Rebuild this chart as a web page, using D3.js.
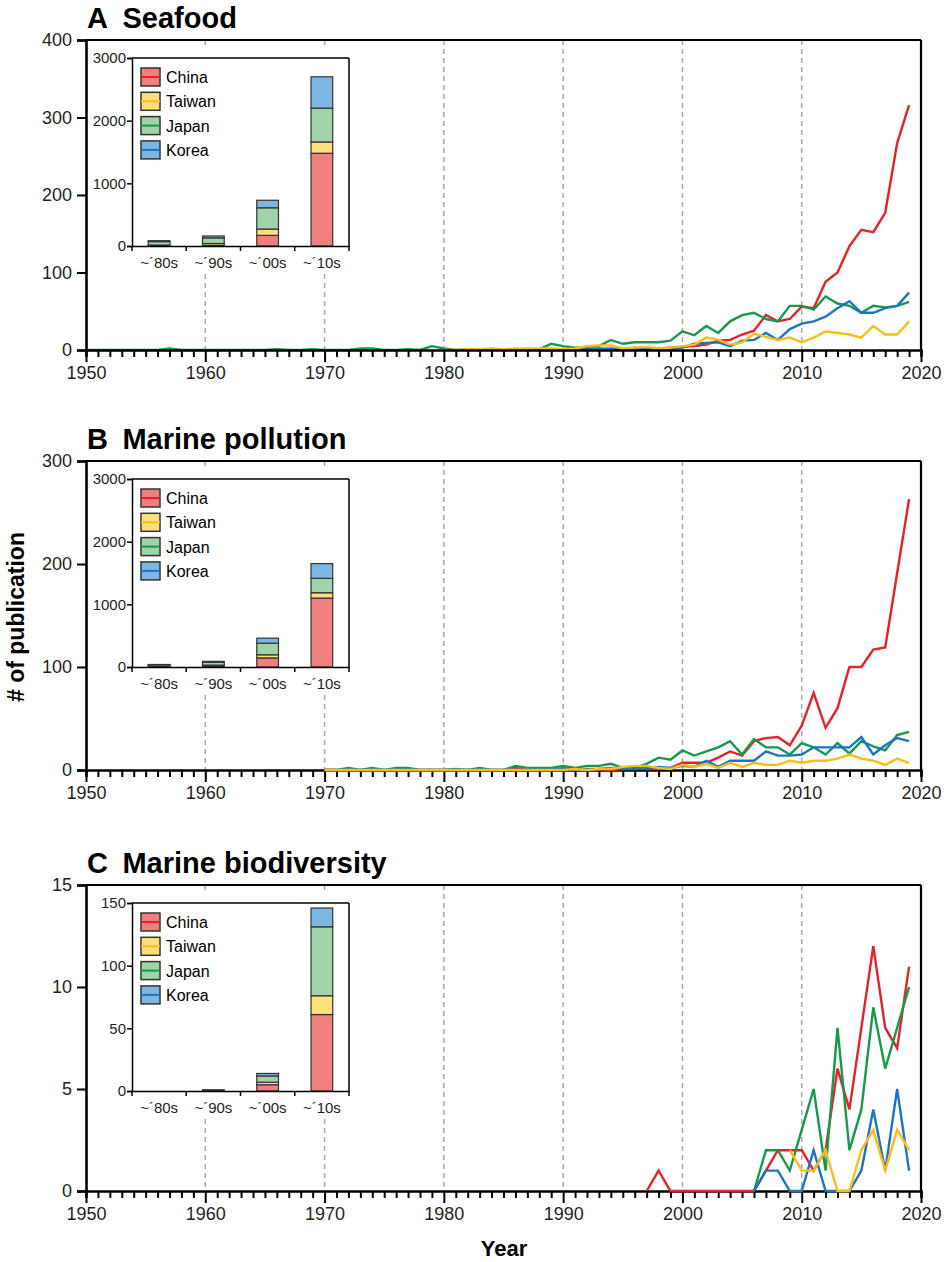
<!DOCTYPE html>
<html><head><meta charset="utf-8">
<script src="https://cdn.jsdelivr.net/npm/d3@7"></script>
<style>
body{margin:0;background:#fff}
svg{display:block}
text{font-family:"Liberation Sans",Arial,Helvetica,sans-serif;fill:#231f20}
</style></head>
<body><svg id="chart" width="948" height="1262"></svg>
<script>
// ---------- data ----------
const countries = ["China", "Taiwan", "Japan", "Korea"];
const lineColors = ["#e8202a", "#fbbd16", "#17994a", "#1c75c4"];
const barColors = ["#f07f80", "#fde07c", "#a1d3a8", "#7db6e3"];
const drawOrder = ["China", "Japan", "Korea", "Taiwan"];
const decadeLabels = ["~\u00b480s", "~\u00b490s", "~\u00b400s", "~\u00b410s"];
const yearTicks = d3.range(1950, 2021);
const gridYears = [1960, 1970, 1980, 1990, 2000, 2010];

// A Seafood
const seafoodStart = {China: 1988, Taiwan: 1980, Japan: 1950, Korea: 1988};
const seafoodChina = [0,0, 0,1,1,2,1,1,2,2,2,3, 4,5,7,12,13,20,25,45,37,40, 56,54,88,100,134,155,152,177,267,316];
const seafoodTaiwan = [0,0,1,1,2,1,2,2,2,2, 1,2,5,6,6,2,3,4,2,3, 5,7,16,13,7,10,21,17,13,16, 10,16,24,22,20,16,31,20,20,37];
const seafoodJapan = [0,0,0,0,0,0,0,2,0,0, 0,0,0,0,0,0,1,0,0,1, 0,0,0,2,2,0,0,1,0,5, 2,0,1,1,1,1,1,1,1,8,
  5,3,4,5,13,8,10,10,10,12, 24,19,31,22,37,45,48,40,37,57, 57,52,69,60,57,48,57,55,57,62];
const seafoodKorea = [0,0, 0,0,1,1,2,1,3,1,2,2, 3,8,9,10,5,12,13,22,13,27, 34,37,43,54,63,48,48,54,57,74];
const seafoodTicks = [0, 100, 200, 300, 400];
const seafoodDecadeChina = [5, 10, 170, 1480];
const seafoodDecadeTaiwan = [10, 30, 100, 180];
const seafoodDecadeJapan = [55, 90, 340, 540];
const seafoodDecadeKorea = [15, 30, 120, 500];

// B Marine pollution
const pollutionStart = {China: 1970, Taiwan: 1970, Japan: 1970, Korea: 1970};
const pollutionChina = [0,0,0,0,0,0,0,0,0,0, 0,0,0,0,0,0,2,0,0,0, 1,0,0,1,0,1,2,1,1,2,
  7,7,7,12,18,14,28,31,32,24, 43,75,41,60,100,100,117,119,191,263];
const pollutionTaiwan = [0,0,0,0,0,0,0,0,0,0, 0,0,0,0,0,0,0,0,0,0, 0,1,0,1,1,3,4,4,2,1,
  5,3,6,2,7,3,7,5,5,9, 7,9,9,11,15,11,9,5,11,7];
const pollutionJapan = [0,0,2,0,2,0,2,2,0,0, 0,1,0,2,0,0,4,2,2,2, 4,2,4,4,6,2,2,6,12,10,
  19,14,18,22,28,15,30,22,22,15, 26,22,15,26,16,28,23,19,34,37];
const pollutionKorea = [0,0,0,0,0,0,0,0,0,0, 0,0,0,0,0,0,0,0,0,0, 2,0,1,1,2,1,1,2,3,2,
  4,3,9,3,9,9,9,18,14,14, 15,22,22,22,22,32,15,24,31,28];
const pollutionTicks = [0, 100, 200, 300];
const pollutionDecadeChina = [5, 15, 145, 1100];
const pollutionDecadeTaiwan = [5, 15, 50, 85];
const pollutionDecadeJapan = [25, 45, 185, 230];
const pollutionDecadeKorea = [5, 15, 80, 235];

// C Marine biodiversity
const biodivStart = {China: 1997, Taiwan: 2009, Japan: 2006, Korea: 2006};
const biodivChina = [0,1,0,0,0,0,0,0,0,0, 1,2,2,2,1,2,6,4,8,12,8,7,11];
const biodivTaiwan = [2,1,1,2,0,0,2,3,1,3,2];
const biodivJapan = [0,2,2,1,3,5,1,8,2,4,9,6,8,10];
const biodivKorea = [0,1,1,0,0,2,0,0,0,1,4,1,5,1];
const biodivTicks = [0, 5, 10, 15];
const biodivDecadeChina = [0, 1, 5, 61];
const biodivDecadeTaiwan = [0, 0, 2, 15];
const biodivDecadeJapan = [0, 0, 5, 55];
const biodivDecadeKorea = [0, 0, 2, 15];

const insetBigTicks = [0, 1000, 2000, 3000];
const insetSmallTicks = [0, 50, 100, 150];

const panels = [
  {letter: "A", title: "Seafood", top: 40, bottom: 350, yTicks: seafoodTicks, start: seafoodStart,
   lines: {China: seafoodChina, Taiwan: seafoodTaiwan, Japan: seafoodJapan, Korea: seafoodKorea},
   bars: {China: seafoodDecadeChina, Taiwan: seafoodDecadeTaiwan, Japan: seafoodDecadeJapan, Korea: seafoodDecadeKorea},
   insetTicks: insetBigTicks, linesOnTop: false},
  {letter: "B", title: "Marine pollution", top: 461, bottom: 770, yTicks: pollutionTicks, start: pollutionStart,
   lines: {China: pollutionChina, Taiwan: pollutionTaiwan, Japan: pollutionJapan, Korea: pollutionKorea},
   bars: {China: pollutionDecadeChina, Taiwan: pollutionDecadeTaiwan, Japan: pollutionDecadeJapan, Korea: pollutionDecadeKorea},
   insetTicks: insetBigTicks, linesOnTop: true},
  {letter: "C", title: "Marine biodiversity", top: 885, bottom: 1191, yTicks: biodivTicks, start: biodivStart,
   lines: {China: biodivChina, Taiwan: biodivTaiwan, Japan: biodivJapan, Korea: biodivKorea},
   bars: {China: biodivDecadeChina, Taiwan: biodivDecadeTaiwan, Japan: biodivDecadeJapan, Korea: biodivDecadeKorea},
   insetTicks: insetSmallTicks, linesOnTop: true}
];

// ---------- drawing ----------
const svg = d3.select("#chart");
const left = 86, right = 921;
const x = d3.scaleLinear().domain([1950, 2020]).range([left, right]);
const colorOf = c => lineColors[countries.indexOf(c)];
const fillOf = c => barColors[countries.indexOf(c)];

panels.forEach(p => {
  const g = svg.append("g");
  const y = d3.scaleLinear().domain([0, d3.max(p.yTicks)]).range([p.bottom, p.top]);

  // title
  g.append("text").attr("x", left + 1).attr("y", p.top - 12)
    .style("font-size", "29px").style("font-weight", "bold").style("fill", "#000")
    .text(p.letter + "\u2002" + p.title);

  // dashed grid
  g.selectAll(".grid").data(gridYears).enter().append("line")
    .attr("x1", d => x(d)).attr("x2", d => x(d))
    .attr("y1", p.top).attr("y2", p.bottom)
    .attr("stroke", "#a8a8a8").attr("stroke-width", 1.5).attr("stroke-dasharray", "5,4");

  const line = d3.line().x(d => x(d.year)).y(d => y(d.value));
  const drawLines = () => {
    drawOrder.forEach(c => {
      const vals = p.lines[c];
      const pts = vals.map((v, i) => ({year: p.start[c] + i, value: v}));
      g.append("path").datum(pts).attr("d", line)
        .attr("fill", "none").attr("stroke", colorOf(c)).attr("stroke-width", 2.4)
        .attr("stroke-linejoin", "miter");
    });
  };
  if (!p.linesOnTop) drawLines();

  // frame top & right
  g.append("line").attr("x1", left).attr("x2", right).attr("y1", p.top).attr("y2", p.top)
    .attr("stroke", "#000").attr("stroke-width", 2.2);
  g.append("line").attr("x1", right).attr("x2", right).attr("y1", p.top).attr("y2", p.bottom)
    .attr("stroke", "#000").attr("stroke-width", 2.2);

  // x axis
  const xa = g.append("g").attr("transform", `translate(0,${p.bottom})`)
    .call(d3.axisBottom(x).tickValues(yearTicks).tickSizeOuter(0).tickSize(7)
      .tickFormat(d => d % 10 === 0 ? d : ""));
  xa.select(".domain").attr("stroke", "#000").attr("stroke-width", 2.6);
  xa.selectAll(".tick line").attr("stroke", "#000").attr("stroke-width", 2)
    .attr("y2", d => d % 10 === 0 ? 12 : 7);
  xa.selectAll(".tick text").style("font-size", "18px").attr("y", 16).style("fill", "#231f20");

  // y axis
  const ya = g.append("g").attr("transform", `translate(${left},0)`)
    .call(d3.axisLeft(y).tickValues(p.yTicks).tickSizeOuter(0).tickSize(9));
  ya.select(".domain").attr("stroke", "#000").attr("stroke-width", 2.6);
  ya.selectAll(".tick line").attr("stroke", "#000").attr("stroke-width", 2);
  ya.selectAll(".tick text").style("font-size", "18px").attr("x", -14).style("fill", "#231f20");

  if (p.linesOnTop) drawLines();

  // ---------- inset ----------
  const iTop = p.top + 18, iBottom = p.top + 206;
  const iLeft = 132, iRight = 349;
  const ig = g.append("g");
  ig.append("rect").attr("x", 92).attr("y", iTop - 9).attr("width", 264).attr("height", iBottom - iTop + 36)
    .attr("fill", "#fff");
  const xb = d3.scaleBand().domain(decadeLabels).range([iLeft, iRight]).paddingInner(0.6).paddingOuter(0.3);
  const yb = d3.scaleLinear().domain([0, d3.max(p.insetTicks)]).range([iBottom, iTop]);
  const stackData = decadeLabels.map((lab, i) => {
    const o = {label: lab};
    countries.forEach(c => { o[c] = p.bars[c][i]; });
    return o;
  });
  const series = d3.stack().keys(countries)(stackData);
  series.forEach(s => {
    ig.selectAll(null).data(s.filter(d => d[1] - d[0] > 0)).enter().append("rect")
      .attr("x", d => xb(d.data.label)).attr("width", xb.bandwidth())
      .attr("y", d => yb(d[1])).attr("height", d => yb(d[0]) - yb(d[1]))
      .attr("fill", fillOf(s.key)).attr("stroke", "#333").attr("stroke-width", 1.2);
  });
  // inset frame
  ig.append("line").attr("x1", iLeft).attr("x2", iRight).attr("y1", iTop).attr("y2", iTop)
    .attr("stroke", "#000").attr("stroke-width", 1.5);
  ig.append("line").attr("x1", iRight).attr("x2", iRight).attr("y1", iTop).attr("y2", iBottom)
    .attr("stroke", "#000").attr("stroke-width", 1.5);
  // inset y axis
  const iya = ig.append("g").attr("transform", `translate(${iLeft},0)`)
    .call(d3.axisLeft(yb).tickValues(p.insetTicks).tickFormat(d3.format("d")).tickSizeOuter(0).tickSize(5));
  iya.select(".domain").attr("stroke", "#000").attr("stroke-width", 1.5);
  iya.selectAll(".tick line").attr("stroke", "#000").attr("stroke-width", 1.5);
  iya.selectAll(".tick text").style("font-size", "15px").attr("x", -6).style("fill", "#231f20");
  // inset x axis
  const iba = ig.append("g").attr("transform", `translate(0,${iBottom})`)
    .call(d3.axisBottom(xb).tickSize(0).tickSizeOuter(0));
  iba.select(".domain").attr("stroke", "#000").attr("stroke-width", 1.5);
  iba.selectAll(".tick text").style("font-size", "15px").attr("y", 11).style("fill", "#231f20");
  const bounds = d3.range(0, decadeLabels.length + 1).map(i => iLeft + i * xb.step());
  ig.selectAll(null).data(bounds).enter().append("line")
    .attr("x1", d => d).attr("x2", d => d).attr("y1", iBottom).attr("y2", iBottom + 5)
    .attr("stroke", "#000").attr("stroke-width", 1.5);

  // legend
  const lg = ig.append("g").attr("transform", `translate(${iLeft + 9},${iTop + 10})`);
  countries.forEach((c, i) => {
    const row = lg.append("g").attr("transform", `translate(0,${i * 24.3})`);
    row.append("rect").attr("x", 0).attr("y", 0).attr("width", 19).attr("height", 18)
      .attr("fill", fillOf(c)).attr("stroke", "#333").attr("stroke-width", 1.5);
    row.append("line").attr("x1", 0).attr("x2", 19).attr("y1", 9).attr("y2", 9)
      .attr("stroke", colorOf(c)).attr("stroke-width", 2);
    row.append("text").attr("x", 25).attr("y", 15).style("font-size", "16px").style("fill", "#000").text(c);
  });
});

// axis titles
svg.append("text").attr("transform", "translate(24,617) rotate(-90)").attr("text-anchor", "middle")
  .style("font-size", "23px").style("font-weight", "bold").style("fill", "#000").text("# of publication");
svg.append("text").attr("x", 504).attr("y", 1256).attr("text-anchor", "middle")
  .style("font-size", "22px").style("font-weight", "bold").style("fill", "#000").text("Year");
</script></body></html>
